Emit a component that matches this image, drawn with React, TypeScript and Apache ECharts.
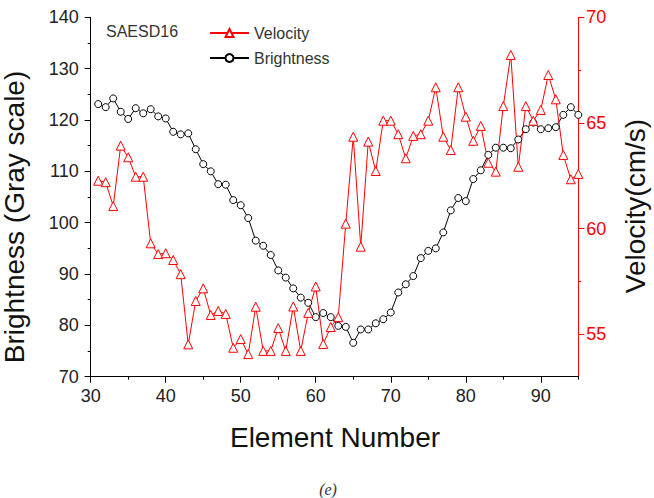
import React, { useEffect, useRef } from "react";
import * as echarts from "echarts";

const elementNumbers = [
  31, 32, 33, 34, 35, 36, 37, 38, 39, 40, 41, 42, 43, 44, 45, 46, 47, 48, 49, 50,
  51, 52, 53, 54, 55, 56, 57, 58, 59, 60, 61, 62, 63, 64, 65, 66, 67, 68, 69, 70,
  71, 72, 73, 74, 75, 76, 77, 78, 79, 80, 81, 82, 83, 84, 85, 86, 87, 88, 89, 90,
  91, 92, 93, 94, 95,
];

const brightness = [
  123.1, 122.5, 124.2, 121.6, 120.2, 122.3, 121.3, 122.1, 120.7, 120.3,
  117.7, 117.2, 117.4, 114.3, 111.4, 110.0, 107.5, 107.4, 104.4, 103.4,
  100.9, 96.5, 95.5, 93.7, 90.7, 89.3, 87.2, 85.4, 84.4, 81.6,
  82.4, 81.6, 79.9, 79.7, 76.6, 79.2, 79.2, 80.4, 81.2, 82.5,
  86.4, 88.0, 89.6, 93.1, 94.5, 95.0, 98.1, 102.4, 104.8, 104.2,
  108.5, 110.2, 113.2, 114.6, 114.6, 114.5, 116.2, 118.2, 119.5, 118.2,
  118.4, 118.6, 121.0, 122.5, 121.0,
];

const velocity = [
  62.27, 62.2, 61.07, 63.93, 63.38, 62.46, 62.46, 59.31, 58.8, 58.84,
  58.52, 57.85, 54.53, 56.58, 57.18, 55.92, 56.11, 55.97, 54.37, 54.78,
  54.07, 56.31, 54.22, 54.22, 55.3, 54.22, 56.32, 54.22, 56.02, 57.27,
  54.55, 55.35, 55.82, 60.24, 64.35, 59.15, 64.12, 62.73, 65.11, 65.11,
  64.47, 63.33, 64.39, 64.47, 65.11, 66.69, 64.35, 63.72, 66.69, 65.3,
  64.16, 64.86, 63.12, 62.7, 65.8, 68.22, 62.93, 65.8, 65.11, 65.62,
  67.27, 66.12, 63.49, 62.34, 62.59,
];

const xMajorTicks = [30, 40, 50, 60, 70, 80, 90];
const xMinorTicks = [35, 45, 55, 65, 75, 85, 95];
const rightMajorTicks = [55, 60, 65, 70];
const rightMinorTicks = [57.5, 62.5, 67.5];

const FONT = "'Liberation Sans', Arial, Helvetica, sans-serif";
const RED = "#ff0000";

export default function App() {
  const ref = useRef<HTMLDivElement>(null);

  useEffect(() => {
    if (!ref.current) return;
    const chart = echarts.init(ref.current, undefined, { renderer: "svg" });

    const bData = elementNumbers.map((x, i) => [x, brightness[i]]);
    const vData = elementNumbers.map((x, i) => [x, velocity[i]]);

    const labelStyle = { fontSize: 18, color: "#222", fontFamily: FONT };

    chart.setOption({
      animation: false,
      backgroundColor: "#fff",
      grid: {
        left: 90.7,
        right: 75.7,
        top: 17.3,
        bottom: 121.3,
        containLabel: false,
        outerBoundsMode: "none",
      },
      legend: {
        data: ["Velocity", "Brightness"],
        orient: "vertical",
        left: 209,
        top: 25,
        padding: 0,
        itemWidth: 39,
        itemHeight: 10,
        itemGap: 9,
        textStyle: { fontSize: 16, lineHeight: 16, color: "#333", fontFamily: FONT },
      },
      xAxis: [
        {
          type: "value",
          min: 30,
          max: 95,
          position: "bottom",
          axisLine: { show: true, onZero: false, lineStyle: { color: "#000", width: 1 } },
          axisTick: { show: true, length: 6, customValues: xMajorTicks, lineStyle: { color: "#000" } },
          axisLabel: { ...labelStyle, margin: 10, customValues: xMajorTicks },
          splitLine: { show: false },
        },
        {
          type: "value",
          min: 30,
          max: 95,
          position: "bottom",
          axisLine: { show: false, onZero: false },
          axisTick: { show: true, length: 3, customValues: xMinorTicks, lineStyle: { color: "#000" } },
          axisLabel: { show: false },
          splitLine: { show: false },
        },
      ],
      yAxis: [
        {
          type: "value",
          min: 70,
          max: 140,
          interval: 10,
          position: "left",
          axisLine: { show: true, onZero: false, lineStyle: { color: "#000", width: 1 } },
          axisTick: { show: true, length: 6, lineStyle: { color: "#000" } },
          minorTick: { show: true, splitNumber: 2, length: 3, lineStyle: { color: "#000" } },
          axisLabel: { ...labelStyle, margin: 12 },
          splitLine: { show: false },
          minorSplitLine: { show: false },
        },
        {
          type: "value",
          min: 53,
          max: 70,
          position: "right",
          axisLine: { show: true, onZero: false, lineStyle: { color: RED, width: 1 } },
          axisTick: { show: true, length: 6, customValues: rightMajorTicks, lineStyle: { color: RED } },
          axisLabel: { ...labelStyle, color: RED, margin: 8, customValues: rightMajorTicks },
          splitLine: { show: false },
        },
        {
          type: "value",
          min: 53,
          max: 70,
          position: "right",
          axisLine: { show: false, onZero: false },
          axisTick: { show: true, length: 3, customValues: rightMinorTicks, lineStyle: { color: RED } },
          axisLabel: { show: false },
          splitLine: { show: false },
        },
      ],
      series: [
        {
          name: "Brightness",
          type: "line",
          xAxisIndex: 0,
          yAxisIndex: 0,
          data: bData,
          symbol: "circle",
          symbolSize: 7,
          lineStyle: { color: "#000", width: 1 },
          itemStyle: { color: "#fff", borderColor: "#000", borderWidth: 1 },
          emphasis: { disabled: true },
        },
        {
          name: "Velocity",
          type: "line",
          xAxisIndex: 0,
          yAxisIndex: 1,
          data: vData,
          symbol: "triangle",
          symbolSize: 9,
          lineStyle: { color: RED, width: 1 },
          itemStyle: { color: "#fff", borderColor: RED, borderWidth: 1 },
          emphasis: { disabled: true },
        },
      ],
      graphic: [
        {
          type: "text",
          x: 106,
          y: 31,
          style: { text: "SAESD16", fontSize: 16, fontFamily: FONT, fill: "#333", align: "left", verticalAlign: "middle" },
        },
        {
          type: "text",
          x: 335,
          y: 437,
          style: { text: "Element Number", fontSize: 28, fontFamily: FONT, fill: "#111", align: "center", verticalAlign: "middle" },
        },
        {
          type: "text",
          x: 14,
          y: 217,
          rotation: Math.PI / 2,
          style: { text: "Brightness (Gray scale)", fontSize: 28, fontFamily: FONT, fill: "#111", align: "center", verticalAlign: "middle" },
        },
        {
          type: "text",
          x: 635,
          y: 206,
          rotation: Math.PI / 2,
          style: { text: "Velocity(cm/s)", fontSize: 28, fontFamily: FONT, fill: "#111", align: "center", verticalAlign: "middle" },
        },
        {
          type: "text",
          x: 328,
          y: 497,
          style: { text: "(e)", fontSize: 16, fontFamily: "'Liberation Serif', serif", fontStyle: "italic", fill: "#333", align: "center", verticalAlign: "bottom" },
        },
      ],
    });

    return () => chart.dispose();
  }, []);

  return (
    <div
      ref={ref}
      style={{ position: "fixed", left: 0, top: 0, width: 654, height: 498, background: "#fff" }}
    />
  );
}
